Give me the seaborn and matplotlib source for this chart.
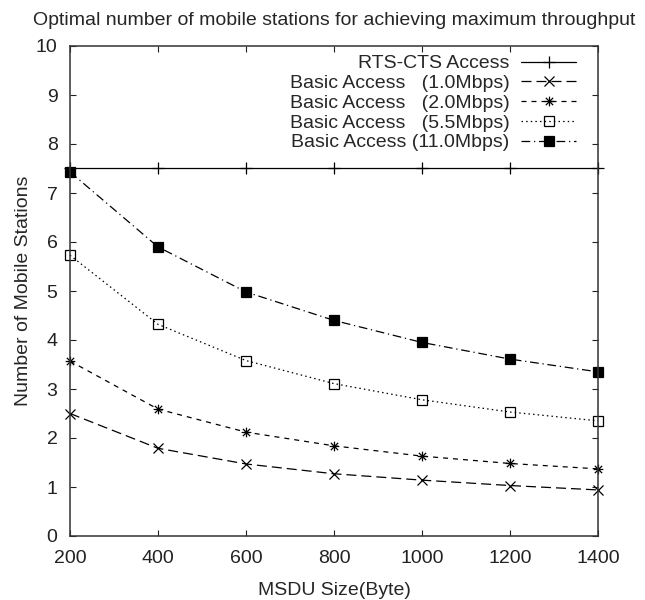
import matplotlib
matplotlib.use("Agg")
import matplotlib.pyplot as plt
from matplotlib.path import Path
import seaborn as sns
import numpy as np

# ---- data ----
msdu_size = [200, 400, 600, 800, 1000, 1200, 1400]
rts_cts = [7.52, 7.52, 7.52, 7.52, 7.52, 7.52, 7.52]
basic_1_0 = [2.50, 1.79, 1.47, 1.27, 1.14, 1.03, 0.94]
basic_2_0 = [3.57, 2.59, 2.12, 1.84, 1.63, 1.48, 1.37]
basic_5_5 = [5.73, 4.32, 3.58, 3.11, 2.78, 2.53, 2.35]
basic_11_0 = [7.43, 5.90, 4.98, 4.40, 3.95, 3.61, 3.35]

labels = [
    "RTS-CTS Access",
    "Basic Access \u2007(1.0Mbps)",
    "Basic Access \u2007(2.0Mbps)",
    "Basic Access \u2007(5.5Mbps)",
    "Basic Access (11.0Mbps)",
]
x_ticks = [200, 400, 600, 800, 1000, 1200, 1400]
y_ticks = list(range(0, 11))

FS = 14

sns.set_theme(style="ticks")
plt.rcParams["font.family"] = ["Liberation Sans", "DejaVu Sans"]
plt.rcParams["font.size"] = FS

fig = plt.figure(figsize=(6.45, 6.0), dpi=100)
ax = fig.add_axes([70 / 645, 1 - 536 / 600, (598 - 70) / 645, (536 - 46) / 600])

star = Path(
    [(-1, 0), (1, 0), (0, -1), (0, 1), (-0.75, -0.75), (0.75, 0.75), (-0.75, 0.75), (0.75, -0.75)],
    [Path.MOVETO, Path.LINETO] * 4,
)

styles = [
    dict(marker="+", linestyle="-", ms=8, mfc="black"),
    dict(marker="x", linestyle=(0, (8, 4)), ms=7, mfc="black"),
    dict(marker=star, linestyle=(0, (4, 4)), ms=7, mfc="none"),
    dict(marker="s", linestyle=(0, (1.2, 2.5)), ms=6.5, mfc="none"),
    dict(marker="s", linestyle=(0, (7, 3, 1, 3)), ms=6.5, mfc="black"),
]
series = [rts_cts, basic_1_0, basic_2_0, basic_5_5, basic_11_0]

handles = []
for yv, lab, st in zip(series, labels, styles):
    sns.lineplot(
        x=msdu_size, y=yv, ax=ax, color="black", linewidth=0.9,
        marker=st["marker"], linestyle=st["linestyle"], markersize=st["ms"],
        markerfacecolor=st["mfc"], markeredgecolor="black", markeredgewidth=0.9,
        clip_on=False, legend=False,
    )
    handles.append(ax.lines[-1])

ax.set_xlim(200, 1400)
ax.set_ylim(0, 10)
ax.set_xticks(x_ticks)
ax.set_yticks(y_ticks)
ax.tick_params(direction="in", length=4.5, width=0.8, top=True, right=True,
               labelsize=FS, colors="#222222")
ax.tick_params(axis="x", pad=10)
ax.tick_params(axis="y", pad=9)
for sp in ax.spines.values():
    sp.set_visible(True)
    sp.set_linewidth(1.1)
    sp.set_color("#333333")

ax.set_xlabel("MSDU Size(Byte)", fontsize=FS, labelpad=11)
ax.set_ylabel("Number of Mobile Stations", fontsize=FS, labelpad=2.5)
ax.set_title("Optimal number of mobile stations for achieving maximum throughput",
             fontsize=FS, pad=15)

leg = ax.legend(handles, labels, loc="upper right", frameon=False, markerfirst=False,
                handlelength=2.8, handletextpad=0.62, labelspacing=0.11,
                borderpad=0, borderaxespad=0,
                bbox_to_anchor=(0.958, 0.982), fontsize=FS)

fig.savefig("out.png", dpi=100)
